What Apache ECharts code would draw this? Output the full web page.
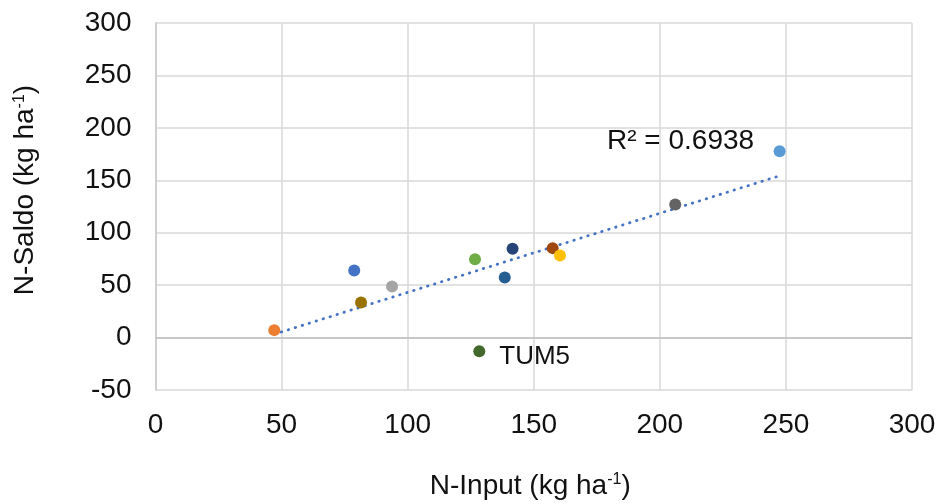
<!DOCTYPE html>
<html>
<head>
<meta charset="utf-8">
<script src="https://cdn.jsdelivr.net/npm/echarts@6/dist/echarts.min.js"></script>
<style>
html,body{margin:0;padding:0;background:#fff;}
#chart{width:939px;height:504px;}
</style>
</head>
<body>
<div id="chart"></div>
<script>
// ---- data ----
const nInput = [47.1, 78.8, 81.5, 93.8, 126.7, 128.4, 138.5, 141.6, 157.5, 160.4, 206.1, 247.5];
const nSaldo = [7.1, 63.9, 33.4, 48.6, 74.8, -13.0, 57.2, 84.6, 85.3, 78.2, 126.8, 177.8];
const pointLabels = ['', '', '', '', '', 'TUM5', '', '', '', '', '', ''];
const xTicks = [0, 50, 100, 150, 200, 250, 300];
const yTicks = [-50, 0, 50, 100, 150, 200, 250, 300];
const r2Text = 'R² = 0.6938';

// ---- styles ----
const palette = ['#ED7D31', '#4472C4', '#997300', '#A5A5A5', '#70AD47', '#43682B',
                 '#255E91', '#264478', '#9E480E', '#FFC000', '#636363', '#5B9BD5'];
const FONT = 'Liberation Sans, Arial, sans-serif';
const TXT = '#111111';

// linear regression trendline (computed from data)
const n = nInput.length;
const mx = nInput.reduce((a, b) => a + b, 0) / n;
const my = nSaldo.reduce((a, b) => a + b, 0) / n;
let sxy = 0, sxx = 0;
for (let i = 0; i < n; i++) { sxy += (nInput[i] - mx) * (nSaldo[i] - my); sxx += (nInput[i] - mx) ** 2; }
const slope = sxy / sxx, icpt = my - slope * mx;
const xMin = Math.min(...nInput), xMax = Math.max(...nInput);
const trend = [[xMin, icpt + slope * xMin], [xMax, icpt + slope * xMax]];

const scatterData = nInput.map((x, i) => ({
  value: [x, nSaldo[i]],
  itemStyle: { color: palette[i % palette.length], opacity: 1 },
  label: { show: pointLabels[i] !== '', formatter: pointLabels[i] }
}));

const chart = echarts.init(document.getElementById('chart'));
chart.setOption({
  animation: false,
  backgroundColor: '#fff',
  grid: { left: 155.5, right: 27, top: 23, bottom: 114, containLabel: false, outerBoundsMode: 'none' },
  xAxis: {
    type: 'value', min: xTicks[0], max: xTicks[xTicks.length - 1], interval: 50,
    axisLine: { show: false }, axisTick: { show: false },
    splitLine: { show: true, lineStyle: { color: '#D9D9D9', width: 1.5 } },
    axisLabel: { fontSize: 28, fontFamily: FONT, color: TXT, margin: 21 },
    name: '{a|N-Input (kg ha}{s|-1}{a|)}',
    nameLocation: 'middle', nameGap: 82,
    nameTextStyle: {
      padding: [0, 7, 0, 0],
      rich: {
        a: { fontSize: 28, fontFamily: FONT, color: TXT },
        s: { fontSize: 16, fontFamily: FONT, color: TXT, verticalAlign: 'top' }
      }
    }
  },
  yAxis: {
    type: 'value', min: yTicks[0], max: yTicks[yTicks.length - 1], interval: 50,
    axisLine: { show: true, lineStyle: { color: '#C8C8C8', width: 1.5 } }, axisTick: { show: false },
    splitLine: { show: true, lineStyle: { color: '#D9D9D9', width: 1.5 } },
    axisLabel: { fontSize: 28, fontFamily: FONT, color: TXT, margin: 24 },
    name: '{a|N-Saldo (kg ha}{s|-1}{a|)}',
    nameLocation: 'middle', nameGap: 116, nameRotate: 90,
    nameTextStyle: {
      padding: [0, 0, 0, 33],
      rich: {
        a: { fontSize: 28, fontFamily: FONT, color: TXT },
        s: { fontSize: 16, fontFamily: FONT, color: TXT, verticalAlign: 'top' }
      }
    }
  },
  series: [
    {
      type: 'line', data: trend, symbol: 'none', silent: true, z: 2,
      lineStyle: { color: '#4472C4', width: 2.8, type: [0.5, 6.8], cap: 'round' },
      markLine: {
        silent: true, symbol: 'none', label: { show: false },
        lineStyle: { color: '#BFBFBF', type: 'solid', width: 1.5 },
        data: [{ yAxis: 0 }]
      }
    },
    {
      type: 'scatter', data: scatterData, symbol: 'circle', symbolSize: 12, z: 3,
      itemStyle: { opacity: 1 },
      label: { position: 'right', distance: 14, offset: [0, 6], fontSize: 26, fontFamily: FONT, color: TXT }
    }
  ],
  graphic: [{
    type: 'text', left: 607, top: 127,
    style: { text: r2Text, fontSize: 28, fontFamily: FONT, fill: TXT }
  }]
});
</script>
</body>
</html>
